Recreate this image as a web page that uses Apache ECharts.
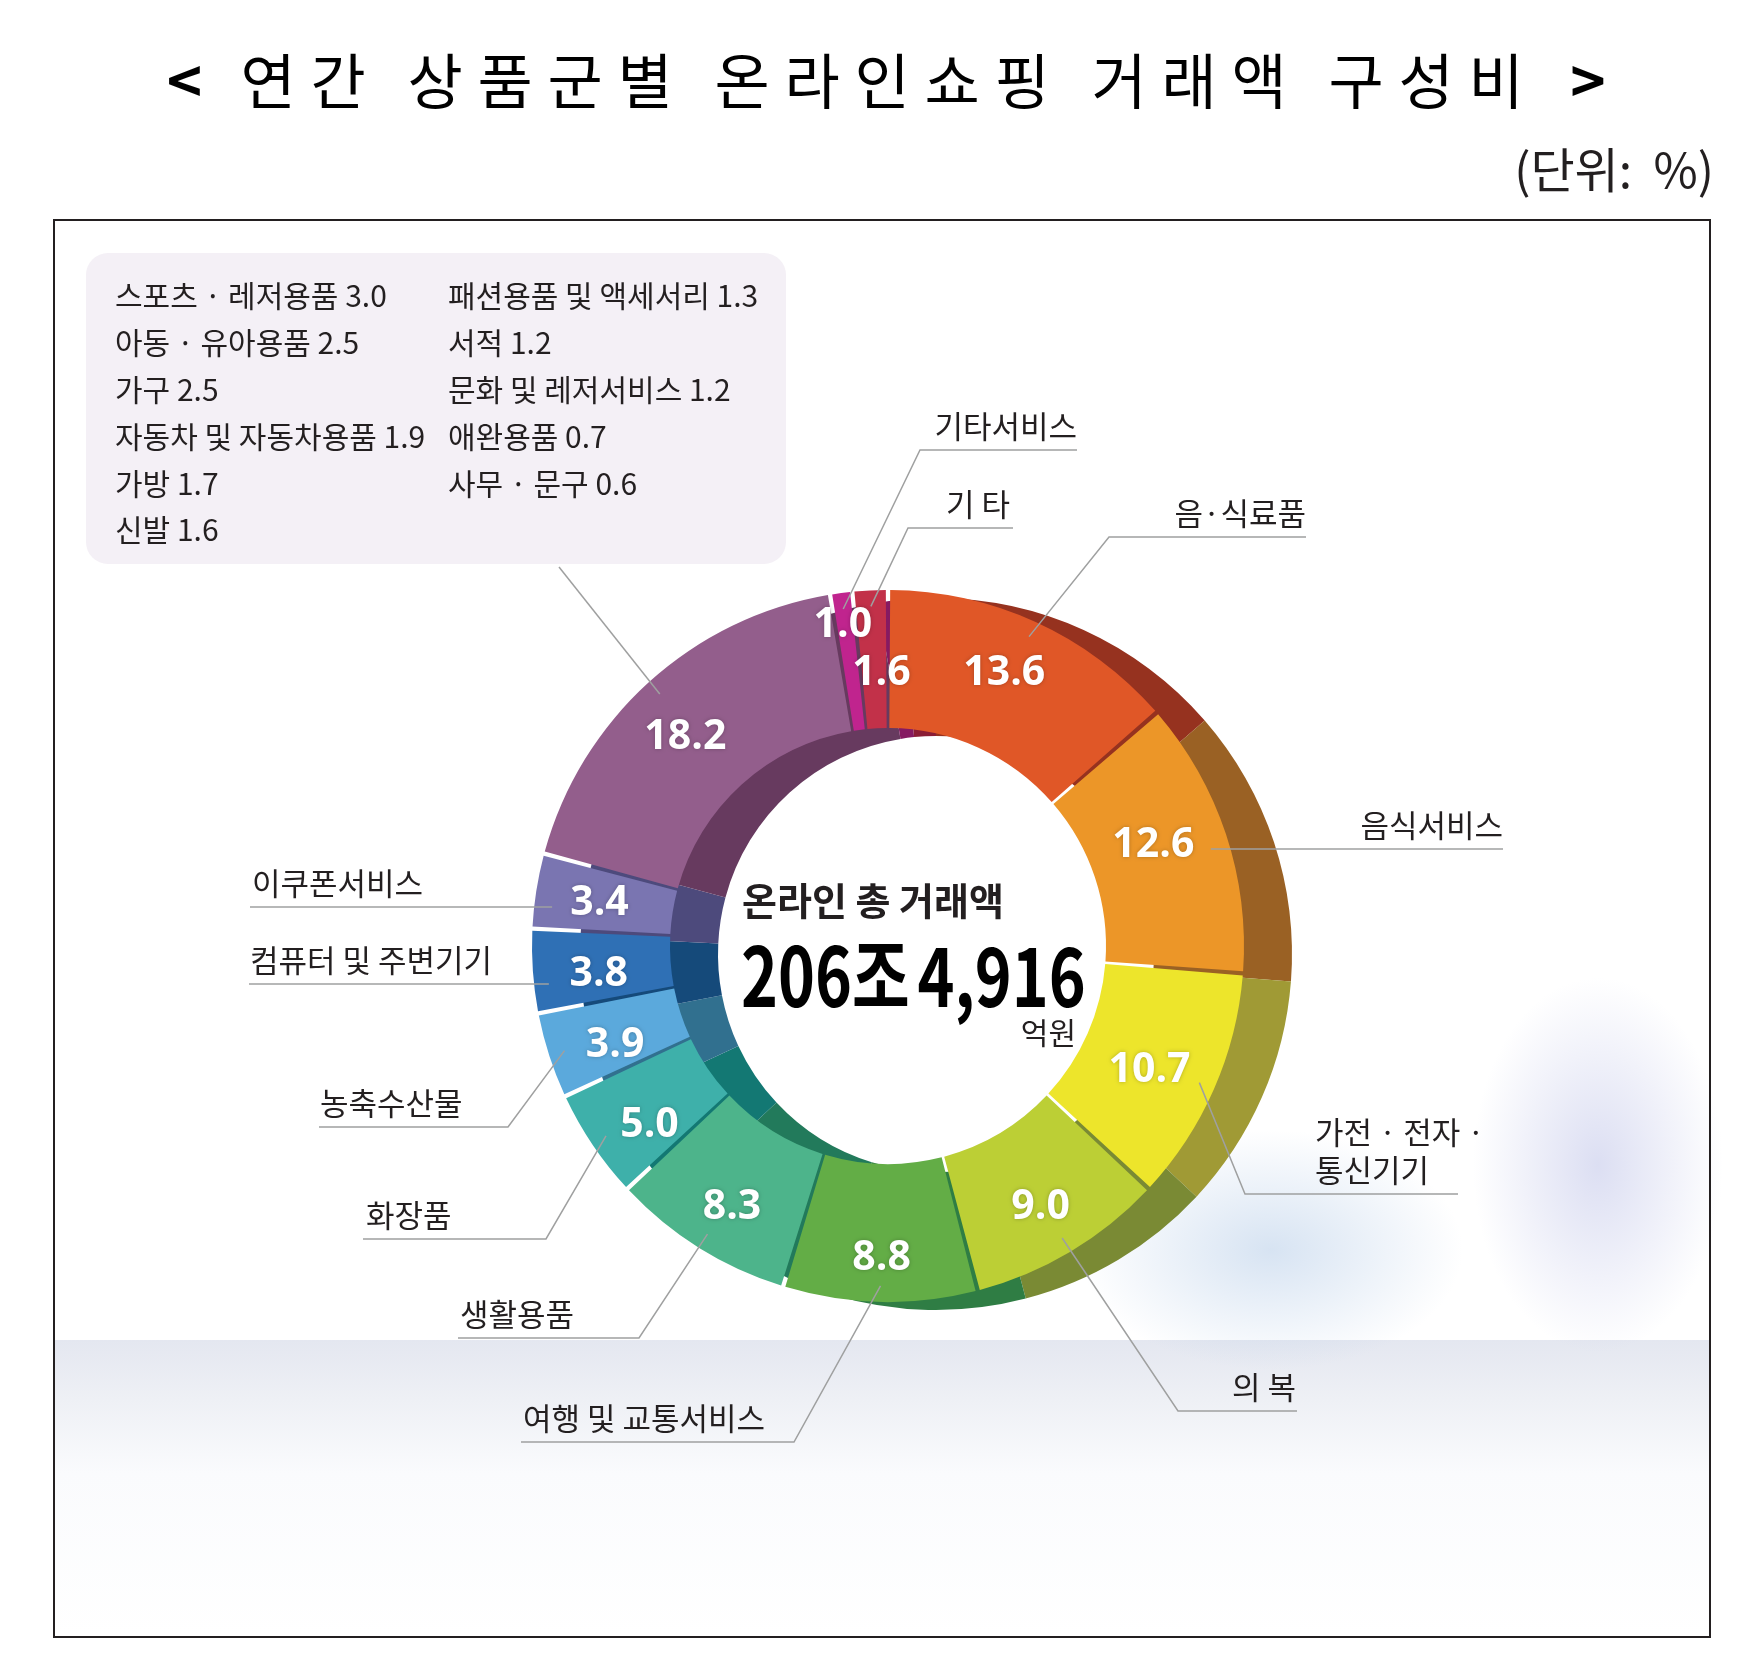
<!DOCTYPE html>
<html>
<head>
<meta charset="utf-8">
<script src="https://cdn.jsdelivr.net/npm/echarts@6/dist/echarts.min.js"></script>
<style>
html, body { margin: 0; padding: 0; background: #fff; }
#chart { width: 1762px; height: 1666px; }
</style>
</head>
<body>
<div id="chart"></div>
<script>
// 상품군별 구성비 (%), 12시 방향부터 시계방향
var categories = ['음·식료품', '음식서비스', '가전 · 전자 ·\n통신기기', '의 복', '여행 및 교통서비스', '생활용품', '화장품', '농축수산물', '컴퓨터 및 주변기기', '이쿠폰서비스', '기타 상품군', '기타서비스', '기 타'];
var shares = [13.6, 12.6, 10.7, 9.0, 8.8, 8.3, 5.0, 3.9, 3.8, 3.4, 18.2, 1.0, 1.6];

// 18.2 묶음의 세부 항목
var groupNames = ['스포츠 · 레저용품', '아동 · 유아용품', '가구', '자동차 및 자동차용품', '가방', '신발', '패션용품 및 액세서리', '서적', '문화 및 레저서비스', '애완용품', '사무 · 문구'];
var groupValues = [3.0, 2.5, 2.5, 1.9, 1.7, 1.6, 1.3, 1.2, 1.2, 0.7, 0.6];

var titleText = '< 연간 상품군별 온라인쇼핑 거래액 구성비 >';
var unitText = '(단위:  %)';
var centerCaption = '온라인 총 거래액';
var centerTotal = ['206조', '4,916'];
var centerUnit = '억원';

// 색
var faceColors = ['#e05727', '#ec9628', '#ede52b', '#bccf35', '#63ad46', '#4db48b', '#3eb0aa', '#5ba9dc', '#2f70b5', '#7a75b1', '#935e8c', '#c0248e', '#c23149'];
var sideColors = ['#96321f', '#9a6124', '#a09a35', '#7a8a34', '#2f7d44', '#227a5b', '#137873', '#31708f', '#154a7a', '#4d4a7c', '#673a5f', '#861a62', '#8b1d35'];

// 배치
var CX = 888, CY = 946, R0 = 218, R1 = 356;
var SIDE_DX = 48, SIDE_DY = 8;
var LEAD_R = 340;
var FONT = "'Noto Sans CJK KR', 'Noto Sans', sans-serif";

// 값 라벨 미세 이동
var valueNudge = [[-4, -9], [-10, -10], [-4, 8], [4, 12], [0, 22], [-2, 16], [2, 17], [3, 10], [0, 8], [-2, 2], [-8, 6], [-7, -33], [8, 17]];

// 이름 라벨 지시선 (꺾임점, 밑줄 높이, 밑줄 끝 x, 글자 x)
var leaders = [
	{ elbow: [1109, 537], endX: 1306, textX: 1306, align: 'right' },
	{ lineY: 849, endX: 1503, textX: 1503, align: 'right' },
	{ elbow: [1245, 1194], endX: 1458, textX: 1315, align: 'left' },
	{ elbow: [1178, 1411], endX: 1297, textX: 1296, align: 'right' },
	{ elbow: [794, 1442], endX: 521, textX: 523, align: 'left' },
	{ elbow: [639, 1338], endX: 458, textX: 460, align: 'left' },
	{ elbow: [546, 1239], endX: 363, textX: 366, align: 'left' },
	{ elbow: [508, 1127], endX: 319, textX: 320, align: 'left' },
	{ lineY: 984, endX: 249, textX: 250, align: 'left' },
	{ lineY: 907, endX: 250, textX: 252, align: 'left' },
	{ elbow: [559, 567], endX: 559, textX: 559, align: 'left', noText: true },
	{ elbow: [920, 450], endX: 1077, textX: 1077, align: 'right' },
	{ elbow: [908, 528], endX: 1013, textX: 1010, align: 'right' }
];

var total = shares.reduce(function(a, b) { return a + b; }, 0);
function midAngle(i) {
	var acc = 0;
	for (var j = 0; j < i; j++) acc += shares[j];
	return (90 - (acc + shares[i] / 2) / total * 360) * Math.PI / 180;
}

var pieData = categories.map(function(name, i) {
	return { name: name, value: shares[i] };
});

// 배경, 범례 상자, 제목
var graphics = [];
graphics.push({
	type: 'rect', z: 0, silent: true,
	shape: { x: 55, y: 1340, width: 1656, height: 297 },
	style: {
		fill: new echarts.graphic.LinearGradient(0, 0, 0, 1, [
			{ offset: 0, color: '#e4e7f0' },
			{ offset: 0.2, color: '#eef0f5' },
			{ offset: 0.45, color: '#fafbfd' },
			{ offset: 1, color: '#ffffff' }
		])
	}
});
graphics.push({
	type: 'circle', z: 0, silent: true, x: 1271, y: 1250, scaleX: 1.6, scaleY: 1,
	shape: { cx: 0, cy: 0, r: 120 },
	style: { fill: new echarts.graphic.RadialGradient(0.5, 0.5, 0.5, [
		{ offset: 0, color: 'rgba(175,200,230,0.5)' }, { offset: 1, color: 'rgba(175,200,230,0)' }]) }
});
graphics.push({
	type: 'circle', z: 0, silent: true, x: 1598, y: 1165, scaleX: 1, scaleY: 1.5,
	shape: { cx: 0, cy: 0, r: 125 },
	style: { fill: new echarts.graphic.RadialGradient(0.5, 0.5, 0.5, [
		{ offset: 0, color: 'rgba(185,190,230,0.5)' }, { offset: 1, color: 'rgba(185,190,230,0)' }]) }
});
graphics.push({
	type: 'rect', z: 0, silent: true,
	shape: { x: 86, y: 253, width: 700, height: 311, r: 22 },
	style: { fill: '#f4f0f6' }
});
groupNames.forEach(function(n, i) {
	var col = i < 6 ? 0 : 1;
	var row = i < 6 ? i : i - 6;
	graphics.push({
		type: 'text', z: 1, silent: true,
		x: col ? 448 : 115, y: 296 + row * 46.8,
		style: {
			text: n + ' ' + groupValues[i].toFixed(1),
			font: '30px ' + FONT, fill: '#231f20',
			textAlign: 'left', textVerticalAlign: 'middle'
		}
	});
});

// 제목: 글자마다 칸 너비 고정
var richTitle = '';
titleText.split('').forEach(function(ch) {
	var key = ch === ' ' ? 's' : ch === '<' ? 'l' : ch === '>' ? 'r' : 'c';
	richTitle += '{' + key + '|' + ch + '}';
});
var titleFont = { fontSize: 60, fontFamily: FONT, fontWeight: 'normal', color: '#231f20', align: 'center' };
graphics.push({
	type: 'text', z: 5, silent: true, x: 163, y: 81,
	style: {
		text: richTitle, textAlign: 'left', textVerticalAlign: 'middle',
		rich: {
			c: Object.assign({ width: 70 }, titleFont),
			s: Object.assign({ width: 27 }, titleFont),
			l: Object.assign({ width: 43 }, titleFont, { fontWeight: 'bold' }),
			r: Object.assign({ width: 60 }, titleFont, { fontWeight: 'bold' })
		}
	}
});
graphics.push({
	type: 'text', z: 5, silent: true, x: 1714, y: 170,
	style: { text: unitText, font: '48px ' + FONT, fill: '#231f20', textAlign: 'right', textVerticalAlign: 'middle' }
});

// 가운데 합계
graphics.push({
	type: 'text', z: 10, silent: true, x: 742, y: 901,
	style: { text: centerCaption, font: 'bold 38px ' + FONT, fill: '#231f20', textAlign: 'left', textVerticalAlign: 'middle' }
});
graphics.push({
	type: 'text', z: 10, silent: true, x: 741, y: 976, scaleX: 0.765,
	style: {
		text: '{n|' + centerTotal[0] + '}{g| }{n|' + centerTotal[1] + '}',
		textAlign: 'left', textVerticalAlign: 'middle',
		rich: {
			n: { fontSize: 82, fontWeight: 'bold', fontFamily: FONT, color: '#231f20' },
			g: { width: 10, fontSize: 82 }
		}
	}
});
graphics.push({
	type: 'text', z: 10, silent: true, x: 1076, y: 1033,
	style: { text: centerUnit, font: '30px ' + FONT, fill: '#231f20', textAlign: 'right', textVerticalAlign: 'middle' }
});

// 테두리
graphics.push({
	type: 'rect', z: 20, silent: true,
	shape: { x: 54, y: 220, width: 1656, height: 1417 },
	style: { fill: 'none', stroke: '#231f20', lineWidth: 2 }
});

var chart = echarts.init(document.getElementById('chart'));
chart.setOption({
	backgroundColor: '#ffffff',
	animation: false,
	graphic: graphics,
	series: [
		{
			// 옆면 (입체감)
			type: 'pie', z: 2, silent: true,
			center: [CX + SIDE_DX, CY + SIDE_DY],
			radius: [R0, R1],
			startAngle: 90, clockwise: true,
			label: { show: false }, labelLine: { show: false },
			itemStyle: { color: function(p) { return sideColors[p.dataIndex]; } },
			data: pieData
		},
		{
			// 윗면 + 값
			type: 'pie', z: 3, silent: true,
			center: [CX, CY],
			radius: [R0, R1],
			startAngle: 90, clockwise: true,
			padAngle: 0.7,
			itemStyle: { color: function(p) { return faceColors[p.dataIndex]; } },
			label: {
				show: true, position: 'inside',
				formatter: function(p) { return p.value.toFixed(1); },
				color: '#ffffff', fontSize: 41, fontWeight: 'bold',
				fontFamily: "'Open Sans', 'Noto Sans', sans-serif",
				textShadowColor: 'rgba(0,0,0,0.25)', textShadowBlur: 4
			},
			labelLine: { show: false },
			labelLayout: function(p) {
				var d = valueNudge[p.dataIndex];
				return { dx: d[0], dy: d[1] };
			},
			data: pieData
		},
		{
			// 항목 이름 + 지시선
			type: 'pie', z: 4, silent: true,
			center: [CX, CY],
			radius: [R0, R1],
			startAngle: 90, clockwise: true,
			avoidLabelOverlap: false,
			itemStyle: { color: 'rgba(0,0,0,0)' },
			label: {
				show: true, position: 'outside',
				formatter: function(p) { return leaders[p.dataIndex].noText ? ' ' : p.name; },
				color: '#231f20', fontSize: 31, lineHeight: 38, fontFamily: FONT
			},
			labelLine: { show: true, length: 10, length2: 10, lineStyle: { color: '#9fa0a0', width: 1.5 } },
			labelLayout: function(p) {
				var L = leaders[p.dataIndex];
				var a = midAngle(p.dataIndex);
				var s = [CX + LEAD_R * Math.cos(a), L.lineY != null ? L.lineY : CY - LEAD_R * Math.sin(a)];
				var e = L.elbow || s;
				return {
					x: L.textX, y: e[1] - 5,
					align: L.align, verticalAlign: 'bottom',
					labelLinePoints: [s, e, [L.endX, e[1]]]
				};
			},
			data: pieData
		}
	]
});
</script>
</body>
</html>
